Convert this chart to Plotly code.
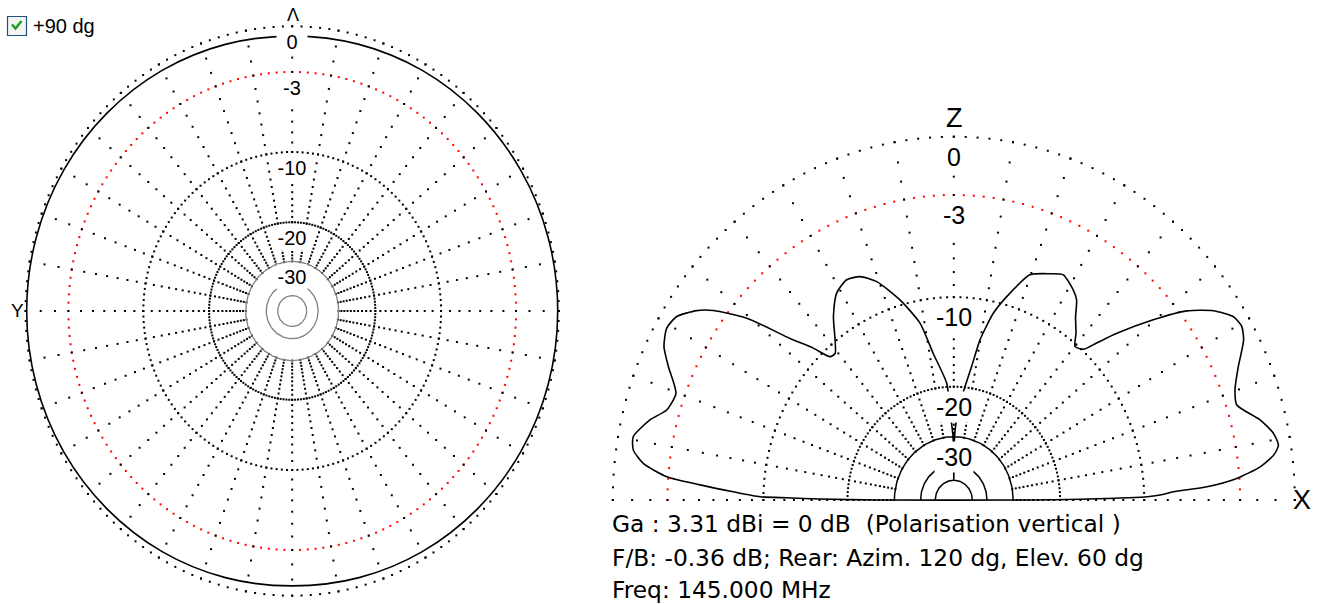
import numpy as np
import plotly.graph_objects as go

# ---------------- data ----------------
# azimuth pattern (left plot), degrees / dB relative to 3.31 dBi
az_deg = [0, 15, 30, 45, 60, 75, 90, 105, 120, 135, 150, 165,
          180, 195, 210, 225, 240, 255, 270, 285, 300, 315, 330, 345]
az_db = [-0.60, -0.53, -0.42, -0.30, -0.18, -0.10, -0.07, -0.10, -0.18, -0.30, -0.42, -0.53,
         -0.60, -0.53, -0.42, -0.30, -0.18, -0.10, -0.07, -0.10, -0.18, -0.30, -0.42, -0.53]

# elevation pattern (right plot), degrees from +X horizon / dB
elev_deg = [0, 0.3, 0.6, 0.9, 1.4, 2.0, 2.8, 4.1, 5.8, 7.5, 9.0, 11.1, 13.8, 17.5, 20.2,
            23.7, 27.4, 29.5, 31.6, 34.4, 37.3, 40.3, 43.8, 45.9, 47.5, 49.9, 52.0, 54.7,
            56.8, 58.8, 62.6, 65.6, 70.2, 74.5, 77.3, 80.1, 81.9, 84.0, 86.0, 88.0, 89.3,
            89.8, 90.0, 90.2, 90.7, 92.0, 93.7, 98.5, 101.5, 106.0, 110.6, 114.1, 117.4,
            121.1, 124.95, 130.75, 132.6, 134.6, 137.2, 140.5, 143.5, 145.35, 148.2, 150.7,
            153.6, 156.3, 160.2, 163.6, 166.1, 169.5, 171.65, 173.7, 175.65, 176.8, 178.0,
            179.1, 179.3, 179.6, 180]
elev_db = [-25.6, -17.0, -12.8, -9.7, -8.4, -7.55, -5.1, -3.16, -1.75, -0.95, -0.63, -0.79,
           -1.34, -2.39, -2.22, -1.60, -0.75, -0.52, -0.65, -1.39, -2.61, -4.56, -7.06, -8.71,
           -9.86, -10.2, -9.29, -8.26, -7.19, -6.72, -6.17, -6.52, -7.16, -9.32, -11.0, -13.8,
           -17.0, -19.9, -22.5, -26.0, -30.0, -40.0, -49.0, -40.0, -30.0, -26.0, -19.45,
           -15.4, -12.0, -9.56, -7.6, -6.78, -6.55, -7.0, -8.31, -10.8, -10.7, -9.14, -7.27,
           -4.12, -2.26, -1.49, -0.75, -0.6, -0.9, -1.54, -2.47, -2.24, -1.47, -0.77, -0.88,
           -1.5, -2.91, -5.05, -7.47, -9.7, -12.25, -16.0, -25.6]

dotted_rings_db = [0, -10, -20]
red_ring_db = [-3]
solid_rings_db = [-30, -40, -50]
spoke_dots_db = list(range(-30, 1))
label_db = [0, -3, -10, -20, -30]
label_txt = ["0", "-3", "-10", "-20", "-30"]

info_lines = ["Ga : 3.31 dBi = 0 dB\u00a0\u00a0(Polarisation vertical )",
              "F/B: -0.36 dB; Rear: Azim. 120 dg, Elev. 60 dg",
              "Freq: 145.000 MHz"]

# ---------------- layout constants ----------------
W, H = 1317, 604
L_CX, L_CY, L_RX, L_RY = 292.2, 311.0, 266.6, 284.7
R_CX, R_CY, R_RX, R_RY = 953.8, 500.0, 341.0, 363.3
L_XR, L_YR = [-1.05, 1.05], [-1.02, 1.06]
R_XR, R_YR = [-1.04, 1.04], [-0.03, 1.05]
FONT = "Liberation Sans"
INFO_FONT = "DejaVu Sans"


def arrl(db):
    return 0.89 ** (-np.asarray(db, dtype=float) / 2.0)


def dom_x(cx, rx, rng):
    return [(cx + rng[0] * rx) / W, (cx + rng[1] * rx) / W]


def dom_y(cy, ry, rng):
    return [1 - (cy - rng[0] * ry) / H, 1 - (cy - rng[1] * ry) / H]


def px(x):
    return x / W


def py(y):
    return 1 - y / H


fig = go.Figure()

# ---------- left plot (azimuth) ----------
def left_xy(ang_deg, r):
    a = np.radians(ang_deg)
    return -r * np.sin(a), r * np.cos(a)

ring_ang_full = np.arange(0, 360, 2)
for db in dotted_rings_db + red_ring_db:
    x, y = left_xy(ring_ang_full, arrl(db) * np.ones_like(ring_ang_full, dtype=float))
    fig.add_trace(go.Scatter(x=x, y=y, mode="markers", xaxis="x", yaxis="y",
                             marker=dict(symbol="square", size=2,
                                         color="#ff0000" if db == -3 else "black"),
                             cliponaxis=False, hoverinfo="skip"))
sx, sy = [], []
for a in range(0, 360, 10):
    x, y = left_xy(np.full(len(spoke_dots_db), a), arrl(spoke_dots_db))
    sx += list(x); sy += list(y)
fig.add_trace(go.Scatter(x=sx, y=sy, mode="markers", xaxis="x", yaxis="y",
                         marker=dict(symbol="square", size=2, color="black"),
                         cliponaxis=False, hoverinfo="skip"))
circ = np.arange(0, 361, 2)
for db in solid_rings_db:
    x, y = left_xy(circ, arrl(db) * np.ones_like(circ, dtype=float))
    fig.add_trace(go.Scatter(x=x, y=y, mode="lines", xaxis="x", yaxis="y",
                             line=dict(color="#808080", width=1.3), hoverinfo="skip"))
ax_, ay_ = left_xy(np.array(az_deg + [360]), arrl(az_db + [az_db[0]]))
fig.add_trace(go.Scatter(x=ax_, y=ay_, mode="lines", xaxis="x", yaxis="y",
                         line=dict(color="black", width=1.6, shape="spline", smoothing=1.0),
                         hoverinfo="skip"))

# ---------- right plot (elevation) ----------
def right_xy(ang_deg, r):
    a = np.radians(ang_deg)
    return r * np.cos(a), r * np.sin(a)

ring_ang_half = np.arange(0, 181, 2)
for db in dotted_rings_db + red_ring_db:
    x, y = right_xy(ring_ang_half, arrl(db) * np.ones_like(ring_ang_half, dtype=float))
    fig.add_trace(go.Scatter(x=x, y=y, mode="markers", xaxis="x2", yaxis="y2",
                             marker=dict(symbol="square", size=2,
                                         color="#ff0000" if db == -3 else "black"),
                             cliponaxis=False, hoverinfo="skip"))
sx, sy = [], []
for a in range(0, 181, 10):
    x, y = right_xy(np.full(len(spoke_dots_db), a), arrl(spoke_dots_db))
    sx += list(x); sy += list(y)
fig.add_trace(go.Scatter(x=sx, y=sy, mode="markers", xaxis="x2", yaxis="y2",
                         marker=dict(symbol="square", size=2, color="black"),
                         cliponaxis=False, hoverinfo="skip"))
half = np.arange(0, 181, 2)
for db in solid_rings_db:
    x, y = right_xy(half, arrl(db) * np.ones_like(half, dtype=float))
    fig.add_trace(go.Scatter(x=x, y=y, mode="lines", xaxis="x2", yaxis="y2",
                             line=dict(color="black", width=1.5), hoverinfo="skip"))
ex, ey = right_xy(np.array(elev_deg + [elev_deg[0]]), arrl(elev_db + [elev_db[0]]))
fig.add_trace(go.Scatter(x=ex, y=ey, mode="lines", xaxis="x2", yaxis="y2",
                         line=dict(color="black", width=1.6, shape="spline", smoothing=0.6),
                         hoverinfo="skip"))

# ---------- annotations ----------
ann = []
for db, t in zip(label_db, label_txt):
    ann.append(dict(x=0, y=float(arrl(db)), xref="x", yref="y", text=t, showarrow=False,
                    xanchor="center", yanchor="middle",
                    yshift=-16, bgcolor="white", width=28, font=dict(size=20)))
    ann.append(dict(x=0, y=float(arrl(db)), xref="x2", yref="y2", text=t, showarrow=False,
                    xanchor="center", yanchor="middle",
                    yshift=-20, bgcolor="white", width=36, font=dict(size=25)))


def paper_text(x, y, t, size, xanchor="center", family=None):
    f = dict(size=size)
    if family:
        f["family"] = family
    return dict(x=px(x), y=py(y), xref="paper", yref="paper", text=t, showarrow=False,
                xanchor=xanchor, yanchor="middle", font=f)


ann.append(paper_text(292.5, 15, "Λ", 18))
ann.append(paper_text(17, 310, "Y", 19))
ann.append(paper_text(954.5, 118, "Z", 27))
ann.append(paper_text(1302, 500, "X", 27))
ann.append(paper_text(31, 26, "+90 dg", 20, "left"))
for t, yy in zip(info_lines, [523, 557, 589]):
    ann.append(paper_text(610, yy, t, 23.3, "left", INFO_FONT))

shapes = [
    dict(type="rect", xref="paper", yref="paper", x0=px(7.5), x1=px(26.5), y0=py(35.5), y1=py(16.5),
         line=dict(color="#1c5180", width=1.2), fillcolor="#f4f4f4"),
    dict(type="path", xref="paper", yref="paper",
         path=f"M {px(12)},{py(24.5)} L {px(15.5)},{py(28.5)} L {px(21.5)},{py(21)}",
         line=dict(color="#21a121", width=2.6)),
]

ax_common = dict(visible=False, showgrid=False, zeroline=False, fixedrange=True)
fig.update_layout(
    width=W, height=H, margin=dict(l=0, r=0, t=0, b=0, pad=0),
    paper_bgcolor="white", plot_bgcolor="white", showlegend=False,
    font=dict(family=FONT, color="black"),
    xaxis=dict(domain=dom_x(L_CX, L_RX, L_XR), range=L_XR, **ax_common),
    yaxis=dict(domain=dom_y(L_CY, L_RY, L_YR), range=L_YR, **ax_common),
    xaxis2=dict(domain=dom_x(R_CX, R_RX, R_XR), range=R_XR, **ax_common),
    yaxis2=dict(domain=dom_y(R_CY, R_RY, R_YR), range=R_YR, **ax_common),
    annotations=ann, shapes=shapes,
)
fig.write_html("out.html", config={"displayModeBar": False},
               post_script="document.body.style.margin='0px';document.body.style.overflow='hidden';")
